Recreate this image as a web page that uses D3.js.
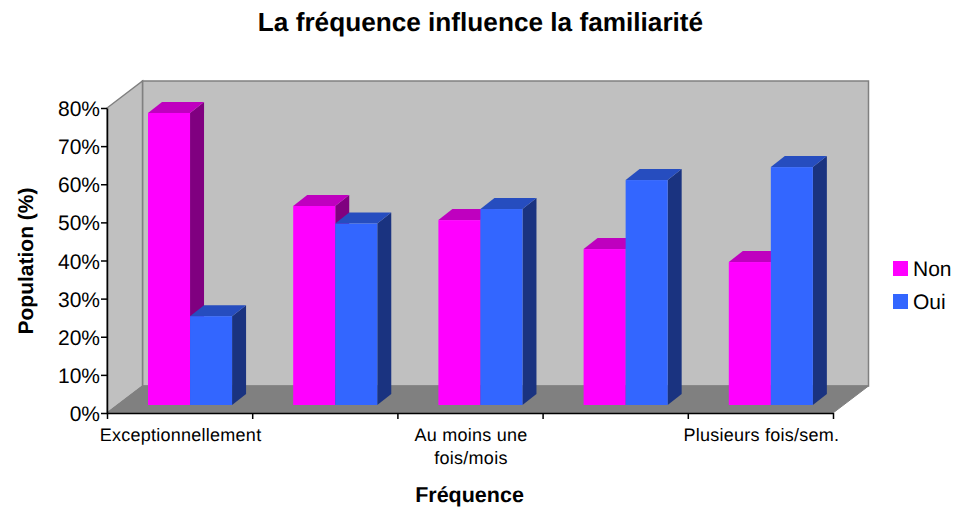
<!DOCTYPE html>
<html><head><meta charset="utf-8">
<script src="https://cdn.jsdelivr.net/npm/d3@7/dist/d3.min.js"></script>
<style>html,body{margin:0;background:#fff}svg{display:block}text{font-family:"Liberation Sans",Arial,sans-serif;fill:#000;text-rendering:geometricPrecision}</style>
</head><body><div id="c"></div>
<script>
const categories = ["Exceptionnellement", "", "Au moins une fois/mois", "", "Plusieurs fois/sem."];
const nonValues = [76.6, 52.2, 48.5, 40.9, 37.5];
const ouiValues = [23.3, 47.6, 51.4, 59.0, 62.4];
const seriesNames = ["Non", "Oui"];
const seriesColors = ["#ff00ff", "#3366ff"];
const sideColors = ["#800080", "#1a3380"];
const topColors = ["#bf00bf", "#264dbf"];
const yTicks = [0, 10, 20, 30, 40, 50, 60, 70, 80];

const svg = d3.select("#c").append("svg").attr("width", 961).attr("height", 507);
const L = 107, R = 833, B = 413, T = 108;
const dx = 35.5, dy = 27;            // box depth
const bdx = 14, bdy = 11;            // bar depth
const baseOffX = 41, baseOffY = 8;   // bar offset inside the box

const x = d3.scaleBand().domain(d3.range(categories.length)).range([L, R]);
const y = d3.scaleLinear().domain([0, 80]).range([B, T]);
const h = v => y(0) - y(v);

const poly = pts => pts.map(p => p.join(",")).join(" ");

// walls and floor
svg.append("polygon").attr("points", poly([[L+dx,T-dy],[R+dx,T-dy],[R+dx,B-dy],[L+dx,B-dy]]))
  .attr("fill", "#c0c0c0").attr("stroke", "#808080").attr("stroke-width", 1.5);
svg.append("polygon").attr("points", poly([[L,B],[L,T],[L+dx,T-dy],[L+dx,B-dy]]))
  .attr("fill", "#c0c0c0").attr("stroke", "#808080").attr("stroke-width", 1.5);
svg.append("polygon").attr("points", poly([[L,B],[L+dx,B-dy],[R+dx,B-dy],[R,B]]))
  .attr("fill", "#808080").attr("stroke", "#808080").attr("stroke-width", 1);

// bars
const barW = x.bandwidth() * 0.2895;
const groups = svg.selectAll("g.cat").data(categories.map((c, i) => i)).enter().append("g").attr("class", "cat");
[nonValues, ouiValues].forEach((vals, s) => {
  groups.each(function (i) {
    const g = d3.select(this), x0 = x(i) + baseOffX + s * barW, x1 = x0 + barW;
    const yb = B - baseOffY, yt = yb - h(vals[i]);
    g.append("polygon").attr("points", poly([[x1,yt],[x1+bdx,yt-bdy],[x1+bdx,yb-bdy],[x1,yb]])).attr("fill", sideColors[s]);
    g.append("polygon").attr("points", poly([[x0,yt],[x0+bdx,yt-bdy],[x1+bdx,yt-bdy],[x1,yt]])).attr("fill", topColors[s]);
    g.append("rect").attr("x", x0).attr("y", yt).attr("width", barW).attr("height", yb - yt).attr("fill", seriesColors[s]);
  });
});

// y axis
const yAxis = svg.append("g").attr("transform", `translate(${L},0)`)
  .call(d3.axisLeft(y).tickValues(yTicks).tickFormat(d => d + "%").tickSize(6).tickSizeOuter(0));
yAxis.selectAll("path,line").attr("stroke", "#000").attr("stroke-width", 1.5);
yAxis.selectAll("text").attr("font-size", 21).attr("x", -7).attr("dy", "0.36em")
  .style("font-family", '"Liberation Sans",Arial,sans-serif');

// x axis: ticks sit on band edges
const edges = d3.range(categories.length + 1).map(i => L + i * x.step());
const xEdge = d3.scaleLinear().domain([L, R]).range([L, R]);
const xAxis = svg.append("g").attr("transform", `translate(0,${B})`)
  .call(d3.axisBottom(xEdge).tickValues(edges).tickFormat("").tickSize(6).tickSizeOuter(0));
xAxis.selectAll("path,line").attr("stroke", "#000").attr("stroke-width", 1.5);

// category labels
categories.forEach((c, i) => {
  if (!c) return;
  const cx = x(i) + x.bandwidth() / 2 + 1;
  const lines = c === "Au moins une fois/mois" ? ["Au moins une", "fois/mois"] : [c];
  lines.forEach((t, k) => svg.append("text").attr("x", cx).attr("y", 441 + k * 23)
    .attr("text-anchor", "middle").attr("font-size", 18).attr("letter-spacing", 0.25).text(t));
});

// titles
svg.append("text").attr("x", 480.5).attr("y", 31).attr("text-anchor", "middle")
  .attr("font-size", 26.2).attr("font-weight", "bold").text("La fréquence influence la familiarité");
svg.append("text").attr("x", 469.5).attr("y", 502).attr("text-anchor", "middle")
  .attr("font-size", 21.5).attr("font-weight", "bold").text("Fréquence");
svg.append("text").attr("transform", "translate(33,261) rotate(-90)").attr("text-anchor", "middle")
  .attr("font-size", 21).attr("font-weight", "bold").text("Population (%)");

// legend
seriesNames.forEach((n, i) => {
  const yy = 261 + i * 33;
  svg.append("rect").attr("x", 893).attr("y", yy).attr("width", 15).attr("height", 15).attr("fill", seriesColors[i]);
  svg.append("text").attr("x", 913).attr("y", yy + 15).attr("font-size", 21).text(n);
});
</script></body></html>
